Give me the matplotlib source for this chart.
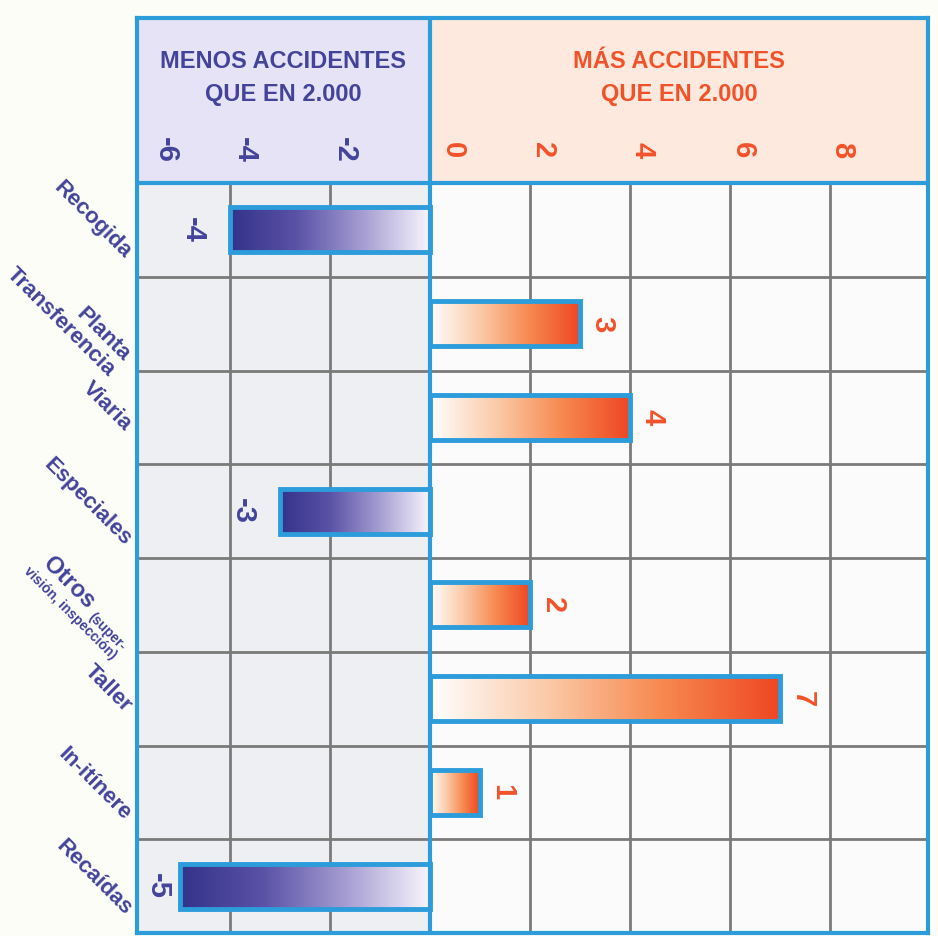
import numpy as np
import matplotlib
matplotlib.use("Agg")
import matplotlib.pyplot as plt
from matplotlib.colors import LinearSegmentedColormap
from matplotlib.transforms import blended_transform_factory

plt.rcParams["font.family"] = ["Liberation Sans", "DejaVu Sans"]

# data
categories = ["Recogida", "Planta\nTransferencia", "Viaria", "Especiales",
              "Otros", "Taller", "In-itínere", "Recaídas"]
values = [-4, 3, 4, -3, 2, 7, 1, -5]
ticks = [-6, -4, -2, 0, 2, 4, 6, 8]
header_left = "MENOS ACCIDENTES\nQUE EN 2.000"
header_right = "MÁS ACCIDENTES\nQUE EN 2.000"
otros_note = "(super-\nvisión, inspección)"

# styling
BLUE = "#2d9cdb"
GRID = "#7a7a7a"
INDIGO = "#43439a"
ORANGE = "#f2522a"
X0, X1 = -5.86, 9.96
HEAD = 1.76  # header height in row units

# label anchor nudges in pixels (dx, dy down)
label_offsets = [(-9, 25), (-18, 42), (-9, 10), (-9, 32),
                 (-46, 0), (-9, 10), (-9, 25), (-9, 26)]
label_sizes = [16, 16, 16, 16, 17, 16, 16, 16]

fig = plt.figure(figsize=(9.38, 9.36), dpi=100, facecolor="#fdfdf7")
ax = fig.add_axes([137 / 938, 3 / 936, 791 / 938, 915 / 936])
n = len(categories)
ytop = -0.5 - HEAD

# backgrounds
ax.fill_between([X0, 0], ytop, -0.5, color="#e5e3f5", zorder=0)
ax.fill_between([0, X1], ytop, -0.5, color="#fde9dd", zorder=0)
ax.fill_between([X0, 0], -0.5, n - 0.5, color="#eeeff3", zorder=0)
ax.fill_between([0, X1], -0.5, n - 0.5, color="#fbfbfb", zorder=0)

# grid
for t in ticks:
    if X0 < t < X1 and t != 0:
        ax.plot([t, t], [-0.5, n - 0.5], color=GRID, lw=2, zorder=1)
for k in range(1, n):
    ax.plot([X0, X1], [k - 0.5, k - 0.5], color=GRID, lw=2, zorder=1)
ax.plot([X0, X1], [-0.5, -0.5], color=BLUE, lw=3, zorder=6)
ax.plot([0, 0], [ytop, n - 0.5], color=BLUE, lw=3, zorder=6)

# bars
neg_cmap = LinearSegmentedColormap.from_list(
    "neg", ["#33338a", "#5a52a6", "#a69ed2", "#f8f5fd"])
pos_cmap = LinearSegmentedColormap.from_list(
    "pos", ["#ffffff", "#fbcaa8", "#f7884e", "#ee4723"])
ypos = np.arange(n)
bars = ax.barh(ypos, values, height=0.48, facecolor="none",
               edgecolor=BLUE, linewidth=3.5, zorder=5)
grad = np.linspace(0, 1, 256).reshape(1, -1)
for bar, v in zip(bars, values):
    x = bar.get_x()
    w = bar.get_width()
    y = bar.get_y()
    h = bar.get_height()
    cmap = neg_cmap if v < 0 else pos_cmap
    ax.imshow(grad, cmap=cmap, extent=[min(x, x + w), max(x, x + w), y + h, y],
              aspect="auto", interpolation="bicubic", zorder=4)
    if v < 0:
        tx = max(v - 0.75, X0 + 0.42)
        col = INDIGO
    else:
        tx = v + 0.45
        col = ORANGE
    ax.text(tx, y + h / 2, str(v), rotation=-90, ha="center", va="center",
            fontsize=21, fontweight="bold", color=col, zorder=7)

# header
ax.text((X0 + 0) / 2, ytop + 60 / 93.75, header_left, ha="center", va="center",
        fontsize=17, fontweight="bold", color=INDIGO, linespacing=1.5)
ax.text((0 + X1) / 2, ytop + 60 / 93.75, header_right, ha="center", va="center",
        fontsize=17, fontweight="bold", color=ORANGE, linespacing=1.5)
for t in ticks:
    if t == 0:
        tx = 0.45
    elif t < 0:
        tx = max(t + 0.3, X0 + 0.58)
    else:
        tx = t + 0.25
    ax.text(tx, -0.5 - 33 / 93.75, str(t), rotation=-90, ha="center",
            va="center", fontsize=21, fontweight="bold",
            color=INDIGO if t < 0 else ORANGE)

# category labels
trans = blended_transform_factory(ax.transAxes, ax.transData)
for i, (lab, (dx, dy), fs) in enumerate(zip(categories, label_offsets, label_sizes)):
    ax.annotate(lab, xy=(0, i), xycoords=trans, xytext=(dx * 0.72, -dy * 0.72),
                textcoords="offset points", rotation=-45, rotation_mode="anchor",
                ha="right", va="center", multialignment="right",
                fontsize=fs, fontweight="bold", color=INDIGO,
                linespacing=1.0, annotation_clip=False)
ax.annotate(otros_note, xy=(0, categories.index("Otros")), xycoords=trans,
            xytext=(-18 * 0.72, -48 * 0.72), textcoords="offset points",
            rotation=-45, rotation_mode="anchor", ha="right", va="center",
            multialignment="right", fontsize=10, fontweight="bold",
            color=INDIGO, linespacing=1.0, annotation_clip=False)

ax.set_xlim(X0, X1)
ax.set_ylim(n - 0.5, ytop)
ax.set_xticks([])
ax.set_yticks([])
for s in ax.spines.values():
    s.set_color(BLUE)
    s.set_linewidth(3)
    s.set_zorder(8)

fig.savefig("out.png", dpi=100, facecolor=fig.get_facecolor())
